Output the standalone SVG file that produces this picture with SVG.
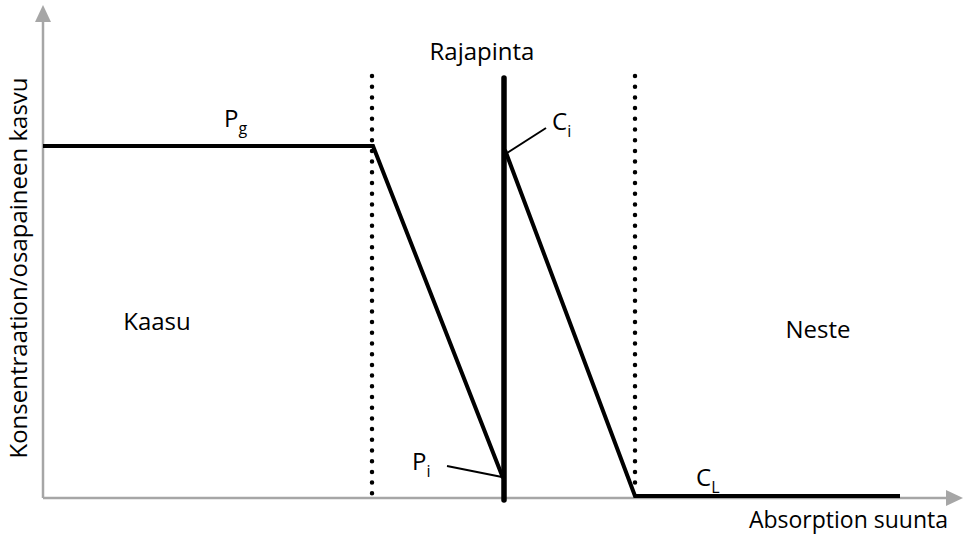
<svg xmlns="http://www.w3.org/2000/svg" width="964" height="537" viewBox="0 0 964 537">
<style>
.t{font-family:"Open Sans","Liberation Sans",sans-serif;font-size:24px;fill:#000}
.s{font-size:16px}
.ax{stroke:#a6a6a6;stroke-width:2.5;fill:none}
.th{stroke:#000;stroke-width:4;fill:none;stroke-linecap:butt}
.dot{stroke:#000;stroke-width:4.5;stroke-linecap:round;stroke-dasharray:0 10.7;fill:none}
.ld{stroke:#000;stroke-width:2;fill:none}
</style>
<rect width="964" height="537" fill="#fff"/>
<g id="axes">
<line class="ax" x1="43" y1="498" x2="43" y2="20"/>
<polygon points="43,5 35,22 51,22" fill="#a6a6a6"/>
<line class="ax" x1="43" y1="498" x2="948" y2="498"/>
<polygon points="963,498 946,490 946,506" fill="#a6a6a6"/>
</g>
<g id="connectors">
<line class="dot" x1="372" y1="76" x2="372" y2="495"/>
<line class="dot" x1="635" y1="76" x2="635" y2="488"/>
<polyline class="th" points="43,146 373,146 503,478"/>
<line x1="504" y1="78" x2="504" y2="500" stroke="#000" stroke-width="5.5" stroke-linecap="round"/>
<polyline class="th" points="505,150 635,496 900,496"/>
<line class="ld" x1="507" y1="153" x2="546" y2="128"/>
<line class="ld" x1="447" y1="466" x2="502" y2="477"/>
</g>
<g id="labels">
<text class="t" x="482" y="60" text-anchor="middle">Rajapinta</text>
<text class="t" x="224" y="127">P<tspan class="s" dy="7">g</tspan></text>
<text class="t" x="552" y="130">C<tspan class="s" dy="7">i</tspan></text>
<text class="t" x="412" y="470">P<tspan class="s" dy="7">i</tspan></text>
<text class="t" x="696" y="486">C<tspan class="s" dy="7">L</tspan></text>
<text class="t" x="157" y="330" text-anchor="middle">Kaasu</text>
<text class="t" x="818" y="338" text-anchor="middle">Neste</text>
<text class="t" x="948" y="528" text-anchor="end" style="font-size:23px">Absorption suunta</text>
<text class="t" transform="translate(27,268) rotate(-90)" text-anchor="middle">Konsentraation/osapaineen kasvu</text>
</g>
</svg>
